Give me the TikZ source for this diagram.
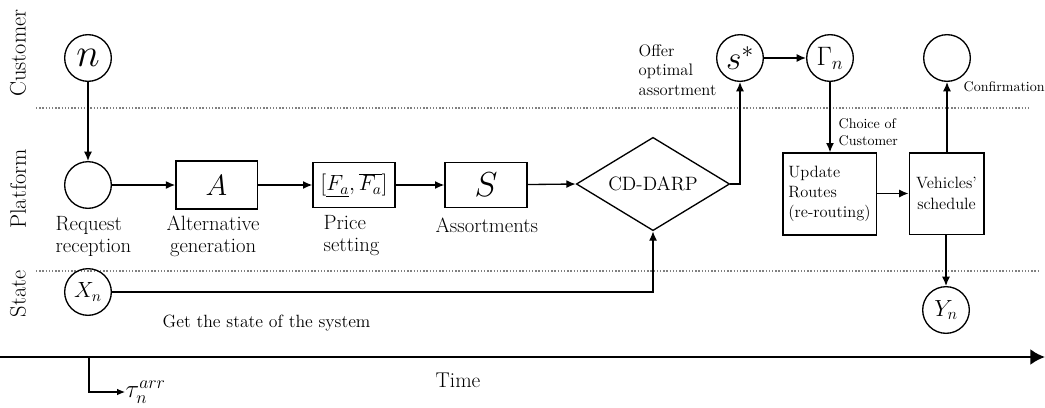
\documentclass[tikz,border=0pt]{standalone}
\usepackage{fix-cm}
\usepackage{fontspec}
\usetikzlibrary{shapes.geometric,arrows.meta}
\newcommand{\fs}[2]{\fontsize{#1}{#2}\selectfont}
\begin{document}
\begin{tikzpicture}[x=0.75pt,y=-0.75pt,
  line width=1pt,
  arr/.style={-{Latex[length=7pt,width=6pt]}},
  state/.style={circle,draw,minimum size=35pt,inner sep=0pt},
  box/.style={rectangle,draw,inner sep=0pt},
  lab/.style={font=\fs{15.5}{16.5pt}, align=left, inner sep=0pt, anchor=base west},
  small/.style={font=\fs{10.5}{12.75pt}, align=left, inner sep=0pt, anchor=base west},
  sep/.style={gray, line width=1.1pt, dash pattern=on 1.1pt off 1.3pt},
  rowlab/.style={rotate=90, font=\fs{16.8}{18pt}, inner sep=0pt}
]
\useasboundingbox (0,0) rectangle (1045,407);

% lane separators
\draw[sep] (36,108) -- (1030,108);
\draw[sep] (36,271) -- (1040,271);

% row labels
\node[rowlab] (rc) at (18,53) {Customer};
\node[rowlab] (rp) at (18,189) {Platform};
\node[rowlab] (rs) at (18,294) {State};

% nodes
\node[state, font=\fs{30}{32pt}] (n) at (88,58) {$n$};
\node[state] (req) at (88,185) {};
\node[box, minimum width=61pt, minimum height=36pt, font=\fs{22}{24pt}] (A) at (216.5,185) {$A$};
\node[box, minimum width=61.5pt, minimum height=34pt, font=\fs{16.5}{18pt}] (P) at (354,185) {$[\underline{F_a},\overline{F_a}]$};
\node[box, minimum width=61.5pt, minimum height=34pt, font=\fs{26}{28pt}] (S) at (486,185) {$S$};
\node[diamond, draw, aspect=1.65, minimum width=115pt, minimum height=70pt, inner sep=0pt, font=\fs{14.5}{16pt}] (dd) at (653,184) {CD-DARP};
\node[state, font=\fs{25}{27pt}] (ss) at (740,58) {$s^{*}$};
\node[state, font=\fs{20}{22pt}] (gam) at (830,58) {$\Gamma_n$};
\node[state] (conf) at (947,58) {};
\node[box, minimum width=70pt, minimum height=61.5pt, align=left, font=\fs{12.3}{15pt}] (upd) at (829.5,194) {Update\\Routes\\(re-routing)};
\node[box, minimum width=56pt, minimum height=61pt, align=center, font=\fs{12.3}{15.5pt}] (veh) at (946.5,193.5) {Vehicles'\\schedule};
\node[state, font=\fs{16.5}{18pt}] (X) at (88,292) {$X_n$};
\node[state, font=\fs{17.5}{19pt}] (Y) at (946,310) {$Y_n$};

% labels (anchor = baseline of last line)
\node[lab] (lreq) at (55,252) {Request\\reception};
\node[lab, align=center] (lA) at (166,252) {Alternative\\generation};
\node[lab] (lP) at (323,251) {Price\\setting};
\node[lab] (lS) at (435,232) {Assortments};
\node[small, font=\fs{12.5}{14.3pt}] (loffer) at (638,95) {Offer\\optimal\\assortment};
\node[small] (lchoice) at (838,145) {Choice of\\Customer};
\node[small] (lconf) at (963,91) {Confirmation};
\node[small, font=\fs{13.3}{15pt}] (lget) at (162,327) {Get the state of the system};
\node[lab, font=\fs{16}{18pt}] (ltime) at (435,387) {Time};
\node[inner sep=0pt, anchor=west, font=\fs{19}{21pt}] (tau) at (125,392) {$\tau_n^{arr}$};

% connectors
\draw[arr] (n) -- (req);
\draw[arr] (req) -- (A);
\draw[arr] (A) -- (P);
\draw[arr] (P) -- (S);
\draw[arr] (S) -- (dd.west);
\draw[arr] (dd.east) -| (ss.south);
\draw[arr] (ss) -- (gam);
\draw[arr] (gam.south) -- (upd.north -| gam.south);
\draw[arr] (upd.east |- veh.west) -- (veh.west);
\draw[arr] (veh.north -| conf.south) -- (conf.south);
\draw[arr] (veh.south -| Y.north) -- (Y.north);
\draw[arr] (X.east) -| (dd.south);

% time axis
\coordinate (t0) at (0,357);
\coordinate (t1) at (1045,357);
\coordinate (tn) at (89,357);
\draw[line width=2pt, -{Latex[length=11pt,width=12pt]}] (t0) -- (t1);
\draw[line width=0.8pt, -{Latex[length=6pt,width=5pt]}] (tn) |- (tau.west);
\end{tikzpicture}
\end{document}
